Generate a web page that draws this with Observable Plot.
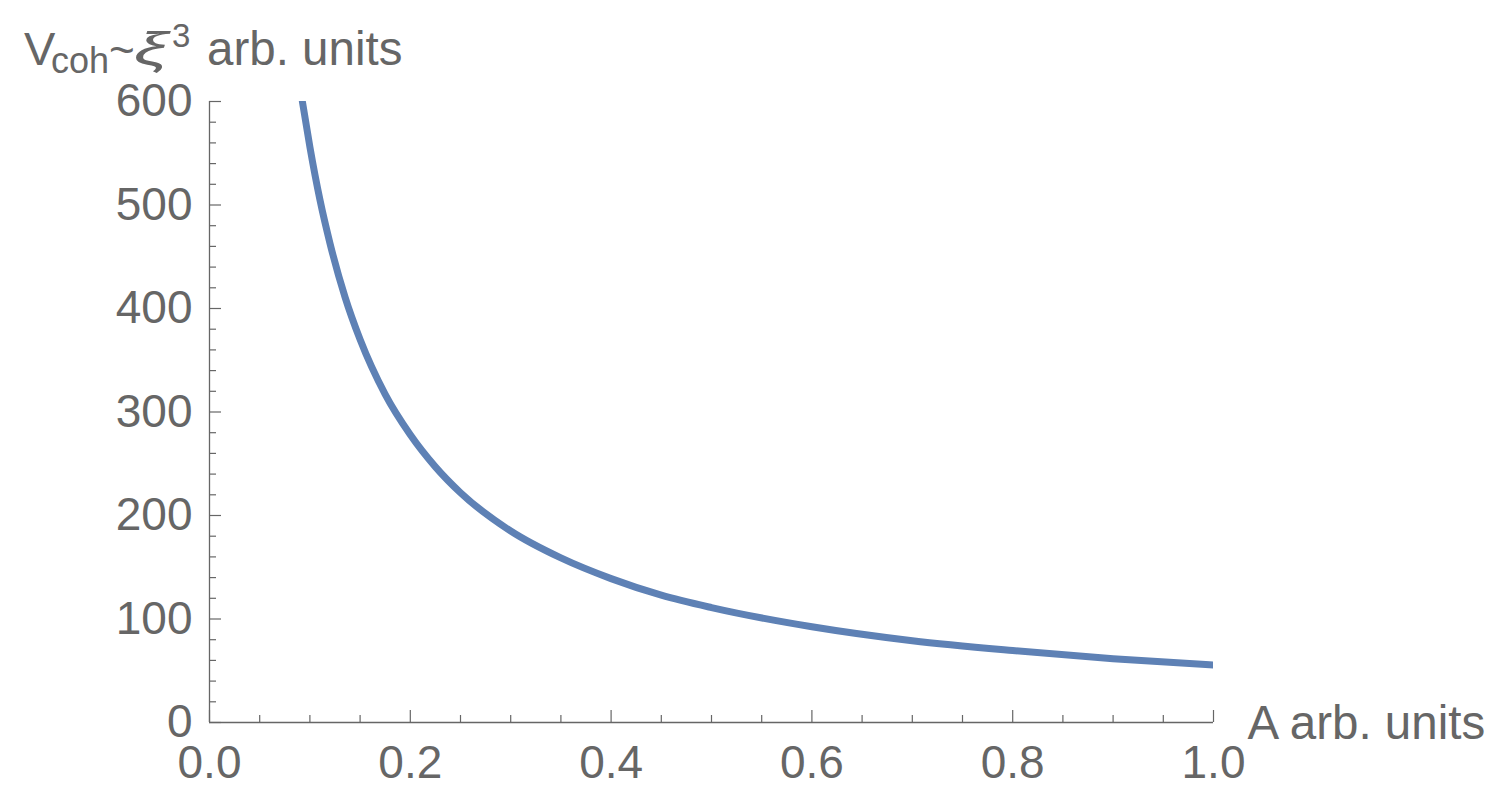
<!DOCTYPE html>
<html>
<head>
<meta charset="utf-8">
<script src="https://cdn.jsdelivr.net/npm/d3@7"></script>
<script src="https://cdn.jsdelivr.net/npm/@observablehq/plot@0.6"></script>
<style>
  html, body { margin: 0; padding: 0; background: #fff; }
  #chart { width: 1501px; height: 794px; }
</style>
</head>
<body>
<div id="chart"></div>
<script>
// Curve: A (arb. units) and V_coh (arb. units)
const A = [0.0925, 0.10, 0.11, 0.12, 0.135, 0.15, 0.175, 0.2, 0.225, 0.25, 0.3, 0.35, 0.4, 0.45, 0.5, 0.6, 0.7, 0.8, 0.9, 1.0];
const V = [600, 556, 505, 463, 411, 370, 317, 278, 247, 222, 185, 159, 139, 123, 111, 92.5, 79, 69.5, 61.7, 55.5];

// Tick values
const xMajor = [0, 0.2, 0.4, 0.6, 0.8, 1.0];
const xMinor = [0.05, 0.1, 0.15, 0.25, 0.3, 0.35, 0.45, 0.5, 0.55, 0.65, 0.7, 0.75, 0.85, 0.9, 0.95];
const yMajor = [0, 100, 200, 300, 400, 500, 600];
const yMinor = [20, 40, 60, 80, 120, 140, 160, 180, 220, 240, 260, 280, 320, 340, 360, 380, 420, 440, 460, 480, 520, 540, 560, 580];

const xLabel = "A arb. units";
const yLabelParts = {main: "V", sub: "coh", rel: "~", sym: "ξ", sup: "3", unit: "arb. units"};

const gray = "#666666";
const curveColor = "#5E81B5";
const font = "'Liberation Sans', Arial, Helvetica, sans-serif";

const rows = A.map((a, i) => ({a, v: V[i]}));

const plot = Plot.plot({
  width: 1501,
  height: 794,
  marginTop: 101,
  marginRight: 288,
  marginBottom: 72,
  marginLeft: 209,
  style: {fontFamily: font, background: "#fff", color: gray, overflow: "visible"},
  x: {domain: [0, 1]},
  y: {domain: [0, 600]},
  marks: [
    Plot.axisX({ticks: xMinor, tickSize: -7, tickFormat: () => "", label: null, stroke: gray, strokeWidth: 1.2}),
    Plot.axisY({ticks: yMinor, tickSize: -7, tickFormat: () => "", label: null, stroke: gray, strokeWidth: 1.2}),
    Plot.axisX({ticks: xMajor, tickSize: -12, tickPadding: 35, tickFormat: d3.format(".1f"), label: null,
                fontSize: 46, stroke: gray, fill: gray, strokeWidth: 1.2}),
    Plot.axisY({ticks: yMajor, tickSize: -12, tickPadding: 29, tickFormat: d3.format("d"), label: null,
                fontSize: 46, stroke: gray, fill: gray, strokeWidth: 1.2}),
    Plot.ruleY([0], {stroke: gray, strokeWidth: 1.3}),
    Plot.ruleX([0], {stroke: gray, strokeWidth: 1.3}),
    Plot.line(rows, {x: "a", y: "v", stroke: curveColor, strokeWidth: 7, curve: "monotone-x", clip: true}),
    Plot.text([xLabel], {frameAnchor: "bottom-right", text: d => d, textAnchor: "start", lineAnchor: "bottom",
                         dx: 34, dy: 16, fontSize: 47.5, fill: gray})
  ]
});

document.getElementById("chart").appendChild(plot);

// Y-axis title with subscript / superscript
const svg = d3.select(plot);
const t = svg.append("text")
  .attr("y", 65)
  .attr("fill", gray)
  .attr("text-anchor", "start")
  .attr("font-family", font)
  .attr("font-size", 46);
t.append("tspan").attr("x", 24).attr("font-size", 47).text(yLabelParts.main);
t.append("tspan").attr("x", 51).attr("dy", 8).attr("font-size", 36).text(yLabelParts.sub);
t.append("tspan").attr("x", 109).attr("dy", -8).attr("font-size", 44).text(yLabelParts.rel);
t.append("tspan").attr("x", 134).attr("font-style", "italic").attr("textLength", 34)
  .attr("lengthAdjust", "spacingAndGlyphs").text(yLabelParts.sym);
t.append("tspan").attr("x", 172).attr("dy", -18).attr("font-size", 33).text(yLabelParts.sup);
t.append("tspan").attr("x", 207).attr("dy", 18).attr("font-size", 47.5).text(yLabelParts.unit);
</script>
</body>
</html>
